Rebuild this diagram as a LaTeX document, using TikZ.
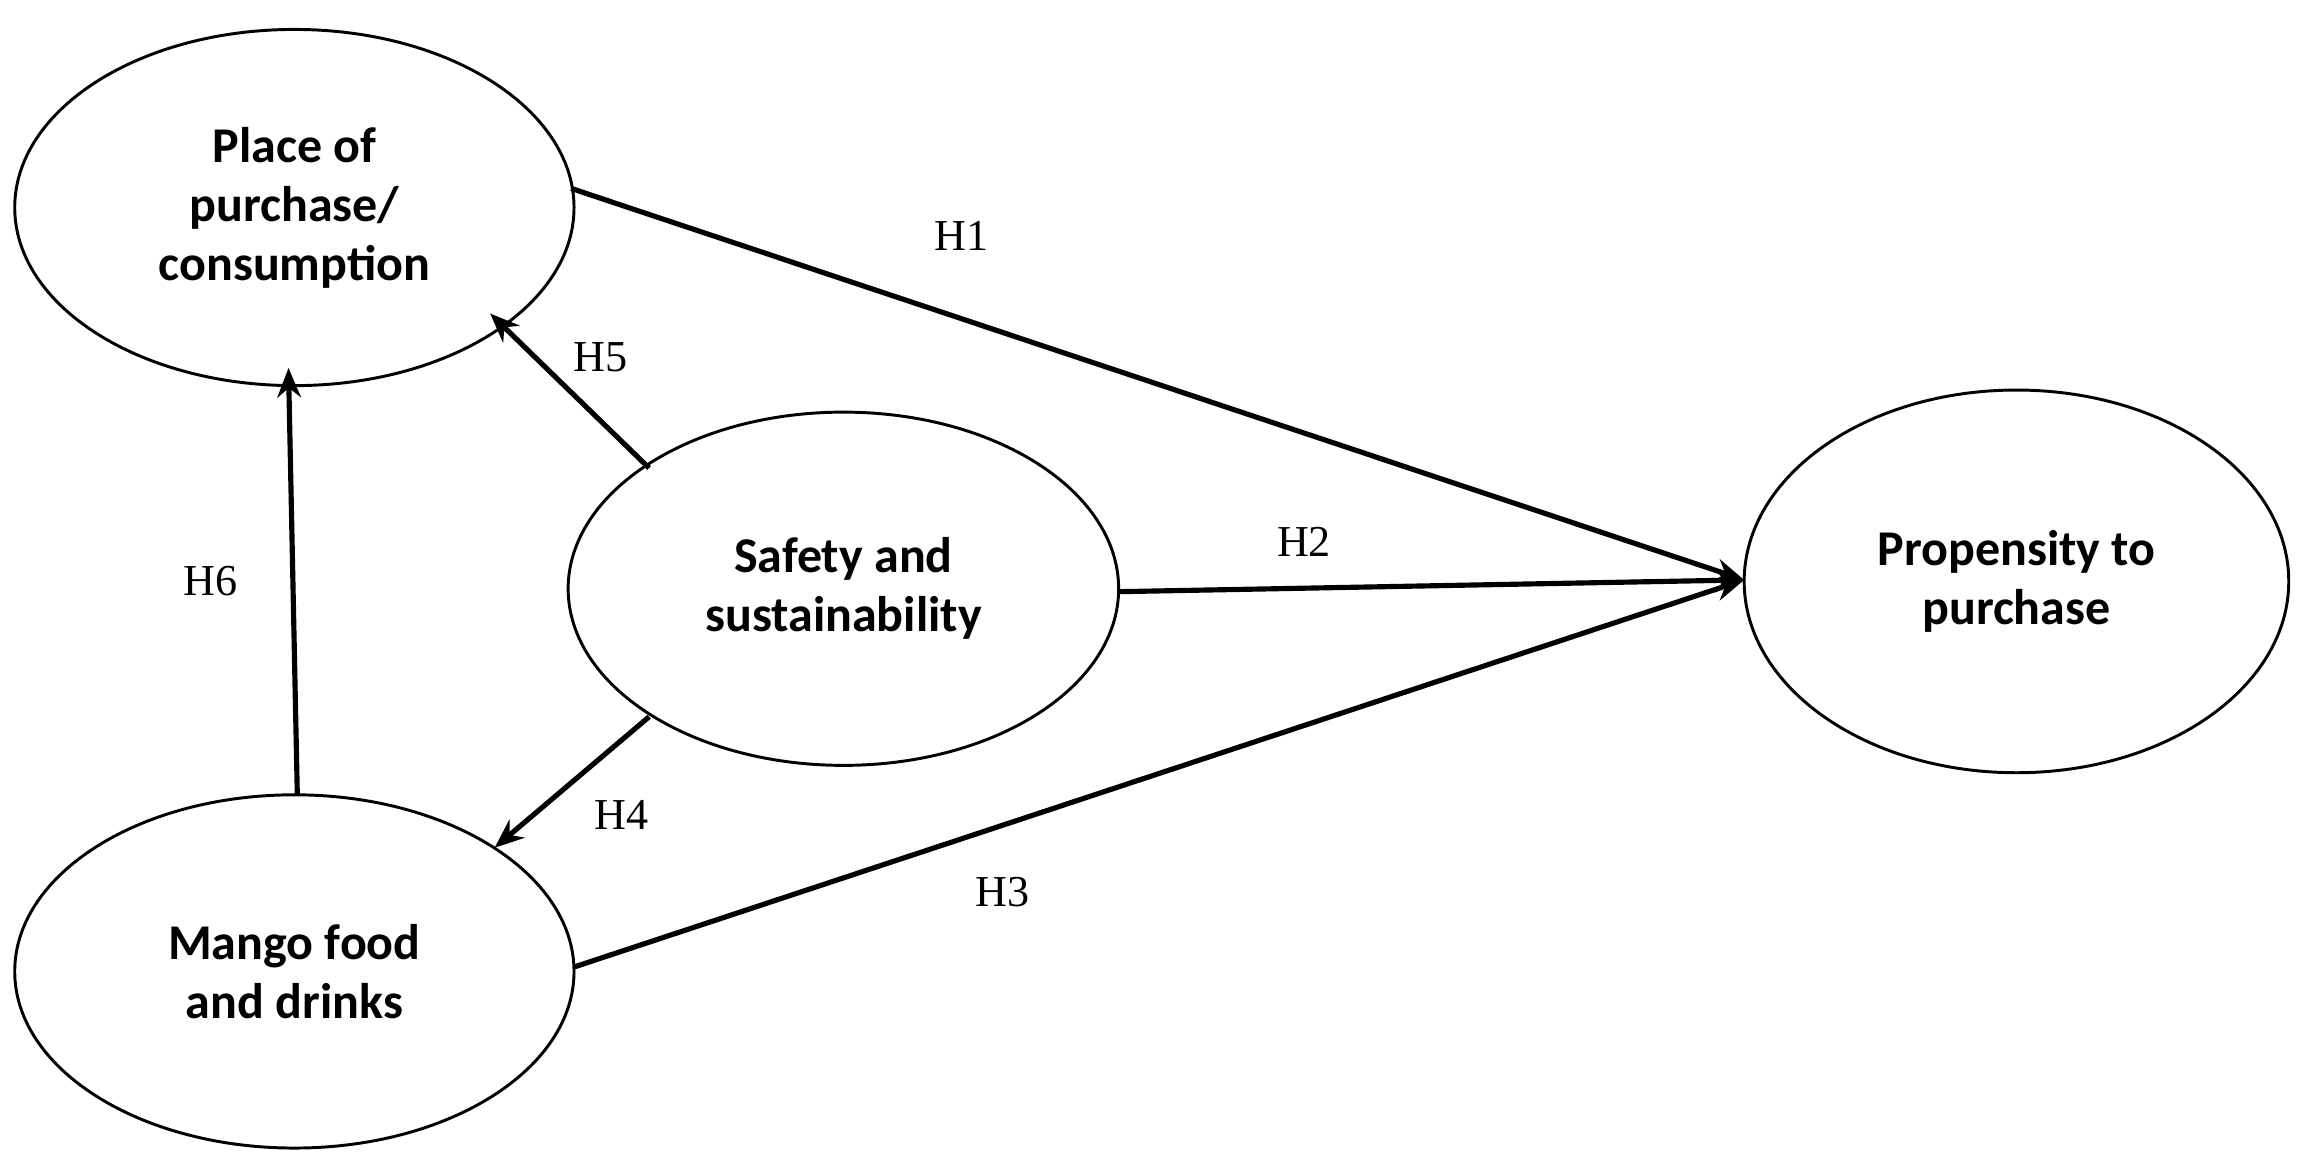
\documentclass[tikz,border=0pt]{standalone}
\usepackage{fontspec}
\setmainfont{Liberation Serif}
\newfontfamily\boxfont{Carlito}
\usetikzlibrary{arrows.meta}
\begin{document}
\begin{tikzpicture}[x=1pt,y=-1pt,
  ell/.style={draw,line width=2pt,ellipse,minimum width=#1,align=center,font=\boxfont\bfseries\fontsize{34}{40}\selectfont},
  arr/.style={line width=3.5pt,-{Stealth[length=20pt,width=16pt]}},
  lab/.style={font=\fontsize{30}{34}\selectfont}]
\useasboundingbox (0,0) rectangle (1564,786);
\draw[line width=2pt] (200,141) ellipse (190 and 121);
\node[font=\boxfont\bfseries\fontsize{34}{40}\selectfont,align=center] (place) at (200,141) {Place of\\purchase/\\consumption};
\draw[line width=2pt] (573,400) ellipse (187 and 120);
\node[font=\boxfont\bfseries\fontsize{34}{40}\selectfont,align=center] (safe) at (573,400) {Safety and\\sustainability};
\draw[line width=2pt] (1370,395) ellipse (185 and 130);
\node[font=\boxfont\bfseries\fontsize{34}{40}\selectfont,align=center] (prop) at (1370,395) {Propensity to\\purchase};
\draw[line width=2pt] (200,660) ellipse (190 and 120);
\node[font=\boxfont\bfseries\fontsize{34}{40}\selectfont,align=center] (mango) at (200,660) {Mango food\\and drinks};
\coordinate (pE) at (388,128);
\coordinate (tgt) at (1185,394);
\coordinate (sE) at (760,402);
\coordinate (mE) at (390,657);
\coordinate (sUL) at (441,318);
\coordinate (pSE) at (333,213);
\coordinate (sLL) at (441,487);
\coordinate (mNE) at (336,576);
\coordinate (mN) at (202,540);
\coordinate (pS) at (196,250);
\draw[arr] (pE) -- (tgt);
\draw[arr] (sE) -- (tgt);
\draw[arr] (mE) -- (tgt);
\draw[arr] (sUL) -- (pSE);
\draw[arr] (sLL) -- (mNE);
\draw[arr] (mN) -- (pS);
\node[lab] (h1) at (653,160) {H1};
\node[lab] (h5) at (408,243) {H5};
\node[lab] (h2) at (886,368) {H2};
\node[lab] (h6) at (143,395) {H6};
\node[lab] (h4) at (422,554) {H4};
\node[lab] (h3) at (681,606) {H3};
\end{tikzpicture}
\end{document}
